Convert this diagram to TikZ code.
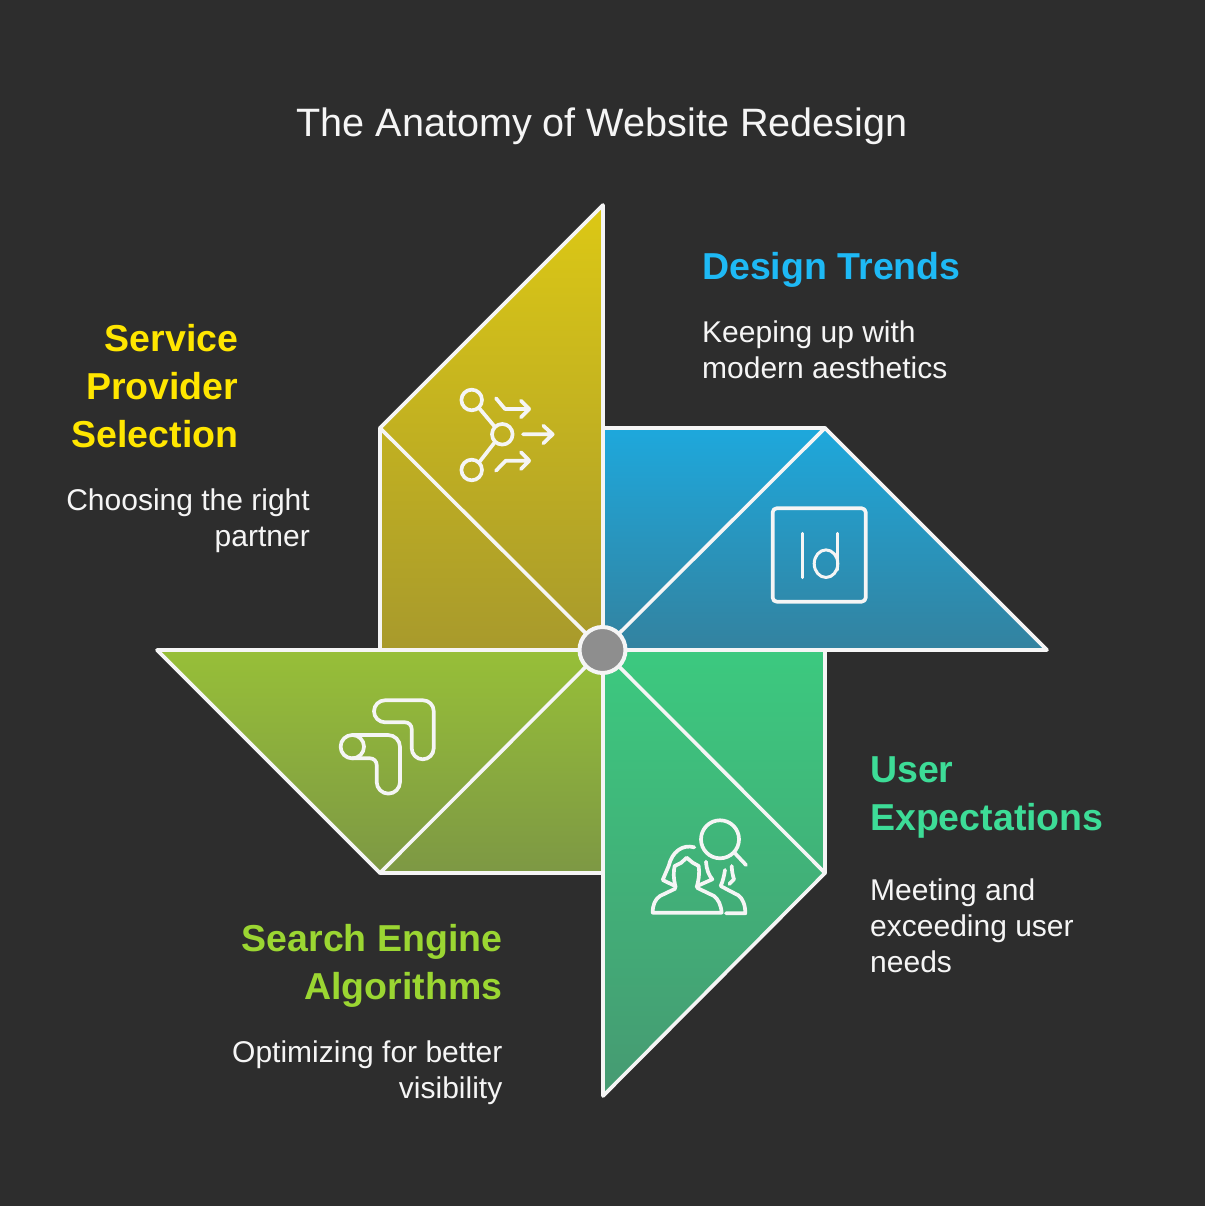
\documentclass[tikz,border=0pt]{standalone}
\usepackage{fontspec}
\setmainfont{Liberation Sans}
\usepackage{tikz}
\definecolor{bgdark}{HTML}{2D2D2D}
\definecolor{softwhite}{HTML}{F5F5F5}
\definecolor{hubgray}{HTML}{8E8E8E}
\definecolor{trendsc}{HTML}{1EB9F5}
\definecolor{servicec}{HTML}{FFE600}
\definecolor{userc}{HTML}{3DDC97}
\definecolor{searchc}{HTML}{9BD632}
\definecolor{servicetop}{HTML}{DCC815}
\definecolor{servicebot}{HTML}{A89A2C}
\definecolor{trendstop}{HTML}{1EA8DC}
\definecolor{trendsbot}{HTML}{33829F}
\definecolor{usertop}{HTML}{3CC97F}
\definecolor{userbot}{HTML}{469A72}
\definecolor{searchtop}{HTML}{97BF38}
\definecolor{searchbot}{HTML}{7D9844}
\tikzset{
  pinline/.style={draw=softwhite,line width=3.6pt,line join=round,line cap=round},
  iconline/.style={draw=softwhite,line width=3.7pt,line join=round,line cap=round},
  headtext/.style={inner sep=0pt,font=\fontsize{37.5}{48}\bfseries\selectfont},
  desctext/.style={inner sep=0pt,text=softwhite,font=\fontsize{30}{36}\selectfont}
}
\begin{document}
\begin{tikzpicture}[x=1pt,y=1pt]
\useasboundingbox (0,0) rectangle (1204,1206);
\fill[bgdark] (-3,-3) rectangle (1207,1209);
\coordinate (hub) at (602.5,556);

% Title
\node[inner sep=0pt,text=softwhite,font=\fontsize{39.6}{48}\selectfont] (title) at (602,1080) {The Anatomy of Website Redesign};

% Blades
\path[top color=servicetop,bottom color=servicebot] (603,1001) -- (603,556) -- (380,556) -- (380,778) -- cycle;
\path[top color=trendstop,bottom color=trendsbot] (603,778) -- (825,778) -- (1047,556) -- (603,556) -- cycle;
\path[top color=usertop,bottom color=userbot] (825,556) -- (825,333) -- (603,110) -- (603,556) -- cycle;
\path[top color=searchtop,bottom color=searchbot] (157,556) -- (603,556) -- (603,333) -- (380,333) -- cycle;

\draw[pinline] (603,1001) -- (603,556) -- (380,556) -- (380,778) -- cycle;
\draw[pinline] (380,778) -- (hub);
\draw[pinline] (603,778) -- (825,778) -- (1047,556) -- (603,556) -- cycle;
\draw[pinline] (825,778) -- (hub);
\draw[pinline] (825,556) -- (825,333) -- (603,110) -- (603,556) -- cycle;
\draw[pinline] (hub) -- (825,333);
\draw[pinline] (157,556) -- (603,556) -- (603,333) -- (380,333) -- cycle;
\draw[pinline] (380,333) -- (hub);

% Hub
\draw[draw=softwhite,line width=4pt,fill=hubgray] (hub) circle (23);

% Icon: branching arrows
\draw[iconline] (471.7,806) circle (10.3);
\draw[iconline] (502.3,771.7) circle (10.3);
\draw[iconline] (471.7,736) circle (10.3);
\draw[iconline] (479,798) -- (495,779);
\draw[iconline] (479,743.5) -- (495,764);
\draw[iconline] (523,771.7) -- (552.7,771.7) (543.3,780.3) -- (552.7,771.7) -- (543.3,762.7);
\draw[iconline] (496,807.7) -- (505,797) -- (529.3,797) (521,805.3) -- (529.3,797) -- (521,788.7);
\draw[iconline] (496,735.3) -- (505.7,745.3) -- (529.3,745.3) (521,753.7) -- (529.3,745.3) -- (521,737);

% Icon: Id badge
\draw[iconline,rounded corners=4pt] (772.7,604.3) rectangle (865.7,697.7);
\draw[iconline,line width=3pt] (802.7,672.7) -- (802.7,628.3);
\draw[iconline,line width=3pt] (837.3,672.7) -- (837.3,636);
\draw[iconline,line width=3pt] (826,642.3) ellipse (11.8 and 13.8);

% Icon: bent tiles
\draw[iconline] (385,505.7) -- (423,505.7) arc (90:0:10.7) -- (433.7,457.7) arc (0:-180:11) -- (411.7,477) arc (0:90:6.7) -- (385,483.7) arc (270:90:11) -- cycle;
\draw[iconline] (352.3,459.3) circle (11.7);
\draw[iconline] (352.3,471) -- (388,471) arc (90:0:12) -- (400,424) arc (0:-180:11.65) -- (376.7,441) arc (0:90:6.7) -- (352.3,447.7);

% Icon: people and lens
\draw[iconline] (720,366.7) circle (19);
\draw[iconline] (735,352.7) -- (746,341);
\begin{scope}[shift={(640,396)},x=0.3333pt,y=-0.3333pt]
\draw[iconline] (163,112) .. controls (128,102) and (96,125) .. (86,168) -- (68,210) -- (105,228);
\draw[iconline] (107,232) .. controls (100,205) and (100,185) .. (104,168) -- (124,158) -- (140,143) -- (158,158) -- (176,168) .. controls (180,190) and (175,215) .. (170,232);
\draw[iconline] (198,155) .. controls (200,180) and (206,195) .. (217,208) -- (172,228);
\draw[iconline] (106,236) -- (60,258) .. controls (45,268) and (38,285) .. (38,308) -- (245,308) .. controls (243,285) and (235,268) .. (222,258) -- (172,234);
\draw[iconline] (255,180) .. controls (252,200) and (248,215) .. (242,228) -- (268,242) -- (295,256) .. controls (308,265) and (316,285) .. (316,310) -- (258,310);
\draw[iconline] (275,168) .. controls (276,185) and (278,195) .. (282,208) -- (268,222);
\end{scope}

% Labels
\node[headtext,text=trendsc,anchor=north west] (trendshead) at (702,953.5) {Design Trends};
\node[desctext,anchor=north west,align=left] (trendsdesc) at (702,885) {Keeping up with\\modern aesthetics};
\node[headtext,text=servicec,anchor=north east,align=right] (servicehead) at (238.5,881.5) {Service\\Provider\\Selection};
\node[desctext,anchor=north east,align=right] (servicedesc) at (310,717) {Choosing the right\\partner};
\node[headtext,text=userc,anchor=north west,align=left] (userhead) at (870,449) {User\\Expectations};
\node[desctext,anchor=north west,align=left] (userdesc) at (870,327) {Meeting and\\exceeding user\\needs};
\node[headtext,text=searchc,anchor=north east,align=right] (searchhead) at (502.5,281.5) {Search Engine\\Algorithms};
\node[desctext,anchor=north east,align=right] (searchdesc) at (502.5,165) {Optimizing for better\\visibility};
\end{tikzpicture}
\end{document}
